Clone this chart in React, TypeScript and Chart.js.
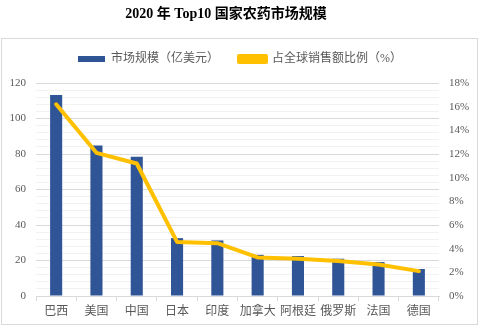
import React, { useEffect, useRef } from "react";
import { Chart, registerables } from "chart.js";

Chart.register(...registerables);

const titleText = "2020 年 Top10 国家农药市场规模";
const categories = ["巴西", "美国", "中国", "日本", "印度", "加拿大", "阿根廷", "俄罗斯", "法国", "德国"];
const marketSize = [113.3, 84.8, 78.4, 32.6, 31.3, 23.2, 22.5, 21.0, 19.1, 15.2];
const sharePct = [16.2, 12.1, 11.2, 4.57, 4.46, 3.26, 3.14, 2.95, 2.67, 2.1];
const barLabel = "市场规模（亿美元）";
const lineLabel = "占全球销售额比例（%）";
const leftMax = 120;
const rightMax = 18;

const FONT = "'Liberation Serif', 'Noto Sans CJK SC', serif";
const GRAY = "#595959";

const framePlugin = {
  id: "frame",
  beforeDraw(chart: any) {
    const ctx = chart.ctx;
    ctx.save();
    ctx.fillStyle = "#ffffff";
    ctx.fillRect(0, 0, chart.width, chart.height);
    ctx.strokeStyle = "#d9d9d9";
    ctx.lineWidth = 1;
    ctx.strokeRect(1.5, 38.5, 476, 286);
    ctx.fillStyle = "#000000";
    ctx.font = "bold 14px " + FONT;
    ctx.textAlign = "center";
    ctx.textBaseline = "middle";
    ctx.fillText(titleText, 226, 14);
    ctx.restore();
  },
};

export default function App() {
  const ref = useRef<HTMLCanvasElement>(null);
  useEffect(() => {
    document.body.style.margin = "0";
    const chart = new Chart(ref.current!, {
      type: "bar",
      data: {
        labels: categories,
        datasets: [
          {
            type: "bar",
            label: barLabel,
            data: marketSize,
            backgroundColor: "#2F5597",
            borderWidth: 0,
            barPercentage: 0.3,
            categoryPercentage: 1,
            yAxisID: "y",
            order: 1,
          },
          {
            type: "line",
            label: lineLabel,
            data: sharePct,
            borderColor: "#FFC000",
            backgroundColor: "#FFC000",
            borderWidth: 4,
            pointRadius: 0,
            borderCapStyle: "round",
            borderJoinStyle: "round",
            tension: 0,
            yAxisID: "y1",
            order: 0,
          },
        ],
      },
      plugins: [framePlugin],
      options: {
        animation: false,
        responsive: false,
        devicePixelRatio: 1,
        layout: { padding: { top: 33, left: 0, right: 0, bottom: 0 } },
        plugins: {
          tooltip: { enabled: false },
          legend: {
            position: "top",
            labels: {
              boxWidth: 27,
              boxHeight: 6,
              padding: 20,
              color: GRAY,
              font: { family: FONT, size: 12 },
              sort: (a: any, b: any) => a.datasetIndex - b.datasetIndex,
            },
          },
        },
        scales: {
          spacer: {
            type: "category",
            position: "top",
            display: true,
            grid: { display: false },
            border: { display: false },
            ticks: { display: false },
            afterFit: (s: any) => { s.height = 8; },
          } as any,
          x: {
            grid: {
              offset: true,
              drawOnChartArea: false,
              tickLength: 5,
              color: "#d9d9d9",
            },
            border: { display: true, color: "#d9d9d9" },
            ticks: {
              color: GRAY,
              padding: 4,
              maxRotation: 0,
              autoSkip: false,
              font: { family: FONT, size: 12 },
            },
            afterFit: (s: any) => { s.height = 32; },
          },
          y: {
            position: "left",
            min: 0,
            max: leftMax,
            grid: {
              drawTicks: false,
              color: (c: any) => (c.tick && c.tick.value % 20 === 0 ? "#d9d9d9" : "#f2f2f2"),
            },
            border: { display: false },
            ticks: {
              stepSize: 4,
              autoSkip: false,
              padding: 10,
              color: GRAY,
              font: { family: FONT, size: 11 },
              callback: (v: any) => (Number(v) % 20 === 0 ? String(v) : ""),
            },
            afterFit: (s: any) => { s.width = 36; },
          },
          y1: {
            position: "right",
            min: 0,
            max: rightMax,
            grid: { drawOnChartArea: false, drawTicks: false },
            border: { display: false },
            ticks: {
              stepSize: 2,
              padding: 10,
              color: GRAY,
              font: { family: FONT, size: 11 },
              callback: (v: any) => v + "%",
            },
            afterFit: (s: any) => { s.width = 41; },
          },
        },
      },
    } as any);
    return () => chart.destroy();
  }, []);
  return <canvas ref={ref} width={480} height={328} style={{ display: "block", width: 480, height: 328 }} />;
}
